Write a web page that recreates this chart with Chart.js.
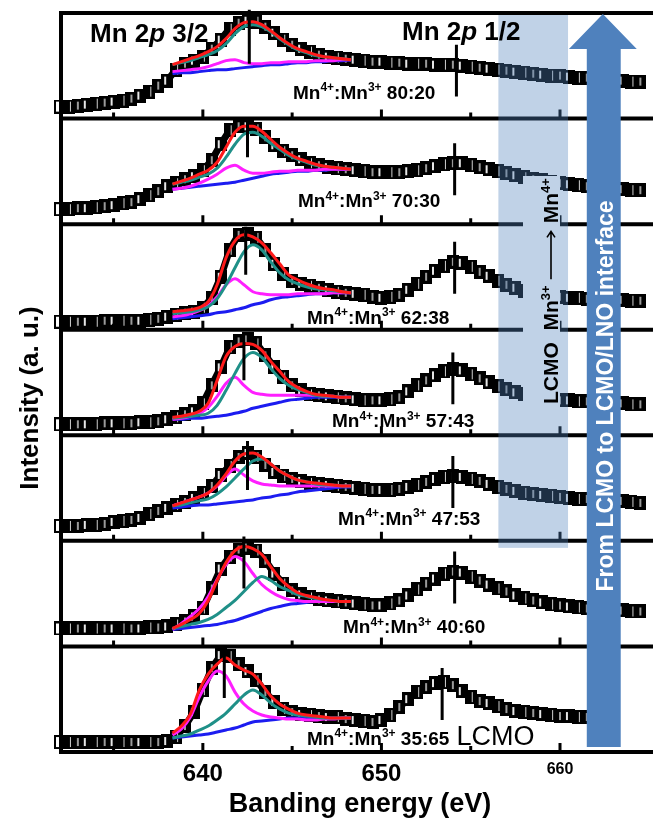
<!DOCTYPE html>
<html>
<head>
<meta charset="utf-8">
<title>Mn 2p XPS depth series</title>
<script src="https://cdn.jsdelivr.net/npm/chart.js@4.4.0/dist/chart.umd.min.js"></script>
<style>
  html, body { margin: 0; padding: 0; background: #fff; overflow: hidden; }
  #wrap { width: 653px; height: 823px; overflow: hidden; }
  canvas { display: block; }
</style>
</head>
<body>
<div id="wrap"><canvas id="xps" width="673" height="823"></canvas></div>
<script>
// binding energy grid of the measured spectra (eV)
const energy = [632, 632.5, 633, 633.5, 634, 634.5, 635, 635.5, 636, 636.5, 637, 637.5, 638, 638.5, 639, 639.5,
  640, 640.5, 641, 641.5, 642, 642.5, 643, 643.5, 644, 644.5, 645, 645.5, 646, 646.5, 647, 647.5, 648, 648.5,
  649, 649.5, 650, 650.5, 651, 651.5, 652, 652.5, 653, 653.5, 654, 654.5, 655, 655.5, 656, 656.5, 657, 657.5,
  658, 658.5, 659, 659.5, 660, 660.5, 661, 661.5, 662, 662.5, 663, 663.5, 664, 664.5];

// energy grid of the fitted 2p3/2 components (eV)
const fitEnergy = [638.3, 638.8, 639.3, 639.8, 640.3, 640.8, 641.3, 641.8, 642.3, 642.8, 643.3,
  643.8, 644.3, 644.8, 645.3, 645.8, 646.3, 646.8, 647.3, 647.8, 648.3];

const tickValues = [640, 650, 660];
const smallTicks = [635, 640, 645, 650, 655, 660];

// Mn4+:Mn3+ ratio of each panel, top to bottom
const ratioLabels = ['80:20', '70:30', '62:38', '57:43', '47:53', '40:60', '35:65'];

// peak markers: position (eV) and vertical extent (panel units)
const peak32 = [642.6, 642.5, 642.4, 642.3, 642.5, 642.3, 641.2];
const peak12 = [654.2, 654.1, 654.1, 654.0, 654.0, 654.1, 653.4];
const mark32 = [[55, 109], [67, 106], [55, 103], [55, 103], [51, 100], [58, 110], [54, 104]];
const mark12 = [[22, 74], [29, 81], [36, 88], [31, 83], [33, 85], [43, 95], [32, 84]];

// measured intensity, one row per panel (offset, arbitrary units)
const spectra = [
  [12, 12, 13, 14, 15, 16, 17, 18, 20, 23, 27, 33, 38, 49, 55, 58, 62, 70, 79, 90, 96, 98, 97, 92, 86, 79, 74, 70, 67, 64,
   62, 61, 60, 59, 58, 57, 57, 56, 56, 55, 55, 55, 54, 54, 54, 53, 52, 51, 50, 49, 48, 47, 46, 45, 44, 43, 43, 42, 41, 41,
   40, 39, 38, 38, 37, 37],
  [15, 15, 16, 16, 17, 18, 19, 21, 22, 25, 29, 33, 38, 41, 45, 48, 54, 64, 80, 94, 98, 98, 95, 87, 79, 73, 69, 65, 61, 59,
   57, 56, 55, 54, 53, 52, 52, 52, 52, 53, 54, 56, 58, 60, 61, 61, 59, 57, 55, 53, 51, 49, 47, 45, 44, 42, 41, 40, 39, 38,
   37, 36, 35, 35, 34, 34],
  [8, 8, 8, 8, 8, 9, 9, 9, 9, 9, 10, 11, 13, 15, 17, 18, 22, 32, 53, 80, 95, 96, 92, 80, 66, 56, 49, 46, 44, 42,
   40, 38, 37, 36, 35, 33, 32, 33, 35, 40, 46, 53, 59, 64, 68, 67, 63, 58, 54, 49, 45, 42, 39, 37, 35, 34, 33, 32, 32, 31,
   31, 30, 30, 30, 29, 29],
  [11, 11, 11, 11, 11, 12, 12, 12, 12, 13, 13, 14, 16, 18, 21, 24, 32, 50, 68, 88, 94, 96, 92, 80, 68, 58, 50, 45, 41, 40,
   39, 38, 37, 36, 35, 35, 35, 36, 38, 44, 50, 55, 60, 64, 66, 65, 61, 57, 53, 49, 46, 43, 41, 39, 37, 36, 35, 35, 34, 34,
   33, 33, 32, 32, 31, 31],
  [15, 15, 15, 16, 16, 17, 19, 20, 21, 23, 27, 30, 33, 36, 39, 43, 48, 55, 66, 75, 84, 88, 84, 76, 69, 65, 62, 60, 58, 57,
   56, 55, 54, 53, 52, 51, 51, 51, 52, 54, 56, 59, 62, 64, 65, 64, 62, 60, 57, 54, 52, 50, 48, 47, 46, 45, 44, 43, 42, 42,
   41, 41, 40, 40, 39, 38],
  [18, 18, 18, 18, 18, 18, 18, 18, 18, 18, 19, 19, 20, 22, 25, 30, 38, 58, 78, 90, 97, 99, 96, 86, 73, 63, 56, 52, 49, 47,
   46, 45, 44, 43, 42, 41, 41, 43, 46, 51, 57, 63, 68, 73, 75, 74, 70, 66, 62, 58, 55, 51, 48, 46, 44, 42, 41, 40, 39, 38,
   37, 37, 36, 36, 35, 35],
  [10, 10, 10, 10, 10, 10, 10, 10, 10, 10, 10, 10, 11, 15, 26, 40, 62, 84, 97, 96, 88, 81, 72, 60, 50, 43, 40, 38, 37, 36,
   35, 35, 33, 32, 31, 30, 32, 37, 45, 53, 60, 65, 69, 70, 67, 61, 55, 51, 49, 46, 43, 41, 40, 39, 38, 37, 36, 36, 35, 35,
   null, null, null, null, null, null]
];

// fitted envelope (red)
const fitTotal = [
  [54, 57, 60, 63, 67, 72, 80, 90, 96, 97, 94, 88, 81, 75, 70, 67, 64, 62, 61, 60, 59],
  [40, 43, 46, 50, 54, 62, 77, 92, 98, 98, 93, 85, 77, 71, 66, 63, 60, 58, 57, 56, 55],
  [18, 19, 20, 22, 28, 45, 72, 89, 95, 93, 87, 77, 66, 55, 50, 46, 43, 41, 40, 38, 37],
  [18, 19, 21, 24, 32, 55, 79, 89, 92, 91, 85, 74, 64, 54, 48, 44, 41, 40, 39, 38, 38],
  [35, 38, 41, 44, 48, 56, 67, 80, 87, 88, 84, 77, 70, 65, 61, 59, 58, 57, 56, 55, 55],
  [18, 22, 27, 33, 46, 66, 84, 96, 100, 98, 92, 80, 68, 60, 54, 51, 49, 47, 46, 45, 45],
  [19, 26, 38, 62, 78, 88, 94, 87, 82, 78, 68, 56, 48, 43, 39, 37, 36, 35, 34, 34, 34]
];
// Mn4+ component (teal)
const fitMn4 = [
  [54, 56, 58, 61, 64, 68, 75, 85, 92, 94, 92, 87, 80, 74, 69, 66, 63, 62, 61, 60, 59],
  [40, 42, 44, 47, 50, 56, 67, 80, 90, 92, 88, 81, 75, 69, 65, 62, 59, 58, 57, 56, 55],
  [16, 17, 18, 20, 23, 31, 45, 62, 78, 85, 80, 68, 57, 50, 46, 43, 41, 40, 39, 38, 37],
  [17, 18, 19, 20, 22, 30, 45, 62, 77, 83, 78, 67, 57, 50, 46, 43, 40, 39, 39, 38, 38],
  [35, 36, 38, 40, 42, 47, 54, 63, 72, 80, 82, 77, 70, 65, 61, 59, 57, 56, 56, 55, 55],
  [18, 20, 22, 24, 27, 32, 39, 46, 55, 64, 70, 66, 60, 56, 52, 50, 48, 47, 46, 45, 45],
  [14, 16, 18, 22, 26, 32, 39, 48, 57, 62, 57, 49, 43, 39, 37, 36, 35, 34, 34, 34, 34]
];
// Mn3+ component (magenta)
const fitMn3 = [
  [47, 48, 49, 50, 52, 55, 58, 59, 56, 55, 55, 56, 56, 57, 57, 57, 58, 58, 58, 59, 59],
  [35, 36, 38, 41, 45, 50, 56, 59, 54, 51, 51, 52, 53, 53, 54, 54, 54, 55, 55, 55, 55],
  [13, 14, 16, 19, 24, 33, 45, 51, 45, 38, 36, 35, 35, 35, 36, 36, 36, 36, 37, 37, 37],
  [16, 17, 19, 22, 28, 39, 52, 58, 50, 43, 41, 40, 40, 40, 40, 40, 40, 39, 39, 38, 38],
  [35, 38, 41, 44, 48, 55, 65, 72, 66, 60, 57, 56, 55, 55, 55, 55, 55, 55, 55, 55, 55],
  [17, 23, 30, 38, 50, 67, 82, 90, 85, 73, 62, 55, 50, 47, 46, 45, 45, 45, 45, 45, 45],
  [17, 23, 35, 55, 71, 81, 76, 60, 48, 41, 37, 35, 34, 33, 33, 32, 32, 33, 33, 34, 34]
];
// Shirley background (blue)
const fitBackground = [
  [45, 46, 46, 47, 48, 49, 49, 50, 51, 52, 53, 54, 54, 55, 56, 56, 57, 57, 58, 58, 59],
  [35, 36, 37, 38, 39, 40, 41, 42, 44, 46, 48, 50, 51, 52, 53, 53, 54, 54, 55, 55, 55],
  [11, 12, 13, 14, 15, 17, 18, 20, 22, 25, 27, 30, 32, 33, 34, 35, 36, 36, 37, 37, 37],
  [16, 16, 17, 17, 18, 19, 20, 22, 24, 27, 29, 31, 33, 35, 36, 37, 38, 38, 38, 38, 38],
  [33, 34, 35, 36, 36, 37, 38, 39, 40, 41, 43, 44, 46, 47, 49, 50, 51, 52, 53, 54, 54],
  [17, 18, 19, 20, 21, 22, 24, 26, 29, 32, 35, 38, 40, 42, 43, 44, 45, 45, 45, 45, 45],
  [14, 15, 16, 17, 18, 20, 22, 24, 27, 30, 31, 32, 33, 34, 34, 34, 34, 34, 34, 34, 34]
];

const FONT = '"Liberation Sans", Arial, Helvetica, sans-serif';
Chart.defaults.font.family = FONT;
Chart.defaults.color = '#000';

// marker sprites for the measured points: dark squares with light streaks
function makeSquare(kind) {
  const c = document.createElement('canvas');
  c.width = 12;
  c.height = 14;
  const g = c.getContext('2d');
  g.fillStyle = '#000';
  g.fillRect(0, 0, 12, 14);
  if (kind === 'open') {
    g.fillStyle = '#fff';
    g.fillRect(2, 2, 8, 10);
  } else if (kind === 'a') {
    g.fillStyle = '#e6e6e6';
    g.fillRect(3, 3, 2, 8);
  } else if (kind === 'b') {
    g.fillStyle = '#9a9a9a';
    g.fillRect(5, 3, 2, 8);
  } else {
    g.fillStyle = '#d0d0d0';
    g.fillRect(7, 2, 1, 10);
  }
  return c;
}
const openSquare = makeSquare('open');
const squares = [makeSquare('a'), makeSquare('c'), makeSquare('b')];

const fitStyles = [
  { src: fitBackground, color: '#1c1cf0' },
  { src: fitMn3, color: '#ff1fff' },
  { src: fitMn4, color: '#1f9088' },
  { src: fitTotal, color: '#ff1a1a' }
];

const datasets = [];
spectra.forEach((row, p) => {
  const yAxisID = 'y' + p;
  datasets.push({
    data: energy.map((e, i) => ({ x: e, y: row[i] })),
    yAxisID,
    borderColor: '#000',
    borderWidth: 7,
    pointRadius: 6,
    pointStyle: ctx => (ctx.dataIndex === 0 ? openSquare : squares[ctx.dataIndex % 3]),
    clip: false,
    order: 6
  });
  fitStyles.forEach((f, k) => {
    datasets.push({
      data: fitEnergy.map((e, i) => ({ x: e, y: f.src[p][i] })),
      yAxisID,
      borderColor: f.color,
      borderWidth: 3,
      pointRadius: 0,
      cubicInterpolationMode: 'monotone',
      clip: false,
      order: 5 - k
    });
  });
  datasets.push({
    data: [
      { x: peak32[p], y: mark32[p][0] }, { x: peak32[p], y: mark32[p][1] },
      { x: peak12[p], y: null },
      { x: peak12[p], y: mark12[p][0] }, { x: peak12[p], y: mark12[p][1] }
    ],
    yAxisID,
    borderColor: '#000',
    borderWidth: 3,
    pointRadius: 0,
    clip: false,
    order: 0
  });
});

const yScales = {};
spectra.forEach((_, p) => {
  yScales['y' + p] = {
    type: 'linear',
    position: 'right',
    stack: 'panels',
    stackWeight: 1,
    min: 0,
    max: 105.7,
    display: false
  };
});

// text with superscripts / italic runs, returns the drawn width
function drawRich(ctx, x, y, parts, size, weight) {
  let cx = x;
  parts.forEach(([t, kind]) => {
    const s = kind === 'sup' ? Math.round(size * 0.62) : size;
    ctx.font = (kind === 'it' ? 'italic ' : '') + (weight || 'bold') + ' ' + s + 'px ' + FONT;
    ctx.fillText(t, cx, kind === 'sup' ? y - size * 0.4 : y);
    cx += ctx.measureText(t).width;
  });
  return cx - x;
}

// label anchor per panel: left edge and baseline height above the panel floor
const ratioPos = [[293, 20], [298, 17], [307, 6], [332, 8], [338, 16], [343, 13], [307, 7]];

const decor = {
  id: 'decor',
  afterDatasetsDraw(chart) {
    const { ctx, chartArea: a, scales } = chart;
    const x = scales.x;
    const panels = spectra.map((_, p) => scales['y' + p]);
    ctx.save();

    // frame and panel separators
    ctx.strokeStyle = '#000';
    ctx.lineWidth = 4;
    ctx.beginPath();
    ctx.moveTo(a.left + 1, a.top - 2);
    ctx.lineTo(a.left + 1, a.bottom + 2);
    ctx.moveTo(a.left, a.top);
    ctx.lineTo(a.right, a.top);
    panels.forEach(s => {
      ctx.moveTo(a.left, s.bottom);
      ctx.lineTo(a.right, s.bottom);
    });
    ctx.stroke();

    // inward ticks along the bottom of each panel
    ctx.lineWidth = 3;
    ctx.beginPath();
    panels.forEach(s => {
      smallTicks.forEach(v => {
        const px = x.getPixelForValue(v);
        const len = v % 10 === 0 ? 9 : 6;
        ctx.moveTo(px, s.bottom);
        ctx.lineTo(px, s.bottom - len);
      });
    });
    ctx.stroke();

    // shaded LCMO band
    const b0 = x.getPixelForValue(656.55);
    const b1 = x.getPixelForValue(660.45);
    ctx.fillStyle = 'rgba(79, 129, 189, 0.36)';
    ctx.fillRect(b0, a.top + 2, b1 - b0, panels[5].top + 7 - a.top - 2);

    // opaque strip behind the band caption
    ctx.fillStyle = 'rgb(192, 210, 231)';
    ctx.fillRect(523, 176, 37, 236);

    // depth arrow
    const sL = x.getPixelForValue(661.5), sR = x.getPixelForValue(663.4);
    const hL = x.getPixelForValue(660.5), hR = x.getPixelForValue(664.3);
    const tip = a.top + 1, base = a.top + 36, foot = a.bottom - 5;
    ctx.fillStyle = '#4f81bd';
    ctx.beginPath();
    ctx.moveTo(sL, foot);
    ctx.lineTo(sL, base);
    ctx.lineTo(hL, base);
    ctx.lineTo((hL + hR) / 2, tip);
    ctx.lineTo(hR, base);
    ctx.lineTo(sR, base);
    ctx.lineTo(sR, foot);
    ctx.closePath();
    ctx.fill();

    ctx.fillStyle = '#000';
    ctx.textAlign = 'left';
    ctx.textBaseline = 'alphabetic';

    // spin-orbit headings
    drawRich(ctx, 90, 42, [['Mn 2', ''], ['p', 'it'], [' 3/2', '']], 26);
    drawRich(ctx, 402, 40, [['Mn 2', ''], ['p', 'it'], [' 1/2', '']], 26);

    // ratio labels
    panels.forEach((s, p) => {
      const [lx, off] = ratioPos[p];
      const w = drawRich(ctx, lx, s.bottom - off,
        [['Mn', ''], ['4+', 'sup'], [':Mn', ''], ['3+', 'sup'], [' ' + ratioLabels[p], '']], 19);
      if (p === panels.length - 1) {
        drawRich(ctx, lx + w + 7, s.bottom - off, [['LCMO', '']], 27, 'normal');
      }
    });

    // band caption, reading upwards
    ctx.save();
    ctx.translate(558, 404);
    ctx.rotate(-Math.PI / 2);
    let cx = drawRich(ctx, 0, 0, [['LCMO', ''], ['  Mn', ''], ['3+', 'sup']], 21);
    cx += 6;
    ctx.strokeStyle = '#000';
    ctx.lineWidth = 1.6;
    ctx.beginPath();
    ctx.moveTo(cx, -7);
    ctx.lineTo(cx + 48, -7);
    ctx.moveTo(cx + 42, -11);
    ctx.lineTo(cx + 48, -7);
    ctx.lineTo(cx + 42, -3);
    ctx.stroke();
    drawRich(ctx, cx + 56, 0, [['Mn', ''], ['4+', 'sup']], 21);
    ctx.restore();

    // arrow caption
    ctx.save();
    ctx.translate((sL + sR) / 2 + 9, 396);
    ctx.rotate(-Math.PI / 2);
    ctx.fillStyle = '#fff';
    ctx.textAlign = 'center';
    ctx.font = 'bold 23px ' + FONT;
    ctx.fillText('From LCMO to LCMO/LNO interface', 0, 0);
    ctx.restore();

    // y-axis title
    ctx.save();
    ctx.translate(38, 398);
    ctx.rotate(-Math.PI / 2);
    ctx.textAlign = 'center';
    ctx.font = 'bold 26px ' + FONT;
    ctx.fillText('Intensity (a. u.)', 0, 0);
    ctx.restore();

    ctx.restore();
  }
};

new Chart(document.getElementById('xps'), {
  type: 'line',
  data: { datasets },
  options: {
    responsive: false,
    animation: false,
    events: [],
    layout: { padding: { left: 60, top: 12, right: 0, bottom: 0 } },
    plugins: { legend: { display: false }, tooltip: { enabled: false } },
    scales: {
      x: {
        type: 'linear',
        position: 'bottom',
        min: 632,
        max: 665.6,
        grid: { display: false, drawTicks: false },
        border: { display: false },
        afterBuildTicks: scale => { scale.ticks = tickValues.map(v => ({ value: v })); },
        afterFit: scale => { scale.height = 71; },
        ticks: {
          autoSkip: false,
          maxRotation: 0,
          padding: 8,
          color: '#000',
          callback: v => String(v),
          font: c => (c.tick && c.tick.value === 660
            ? { size: 16, weight: 'bold', family: FONT }
            : { size: 24, weight: 'bold', family: FONT })
        },
        title: {
          display: true,
          text: 'Banding energy (eV)',
          color: '#000',
          font: { size: 27, weight: 'bold', family: FONT },
          padding: { top: 0, bottom: 2 }
        }
      },
      ...yScales
    }
  },
  plugins: [decor]
});
</script>
</body>
</html>
